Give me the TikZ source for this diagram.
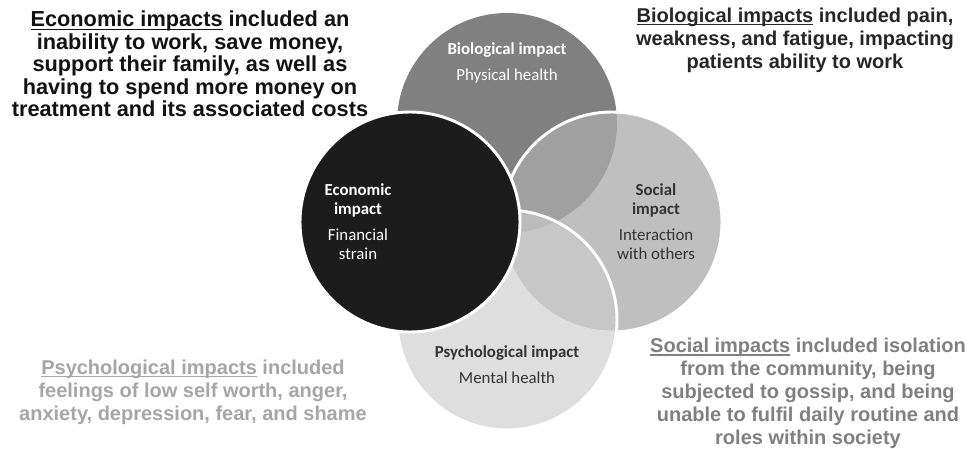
\documentclass[tikz,border=0pt]{standalone}
\usepackage{fontspec}
\setmainfont{Liberation Sans}
\newfontfamily\circfont{Carlito}
\newcommand{\undl}[1]{\setbox0\hbox{#1}\rlap{\rule[-2.4pt]{\wd0}{1pt}}\box0\relax}

\begin{document}
\begin{tikzpicture}[x=0.75pt,y=-0.75pt]
  \tikzstyle{blob}=[circle,minimum size=165pt,inner sep=0pt,draw=white,line width=2.2pt]
  \tikzstyle{inlabel}=[align=center,font=\circfont\fontsize{12.6}{14.25}\selectfont]
  \tikzstyle{note}=[align=center,font=\bfseries\fontsize{15}{17.2}\selectfont]
  \fill[white] (0,0) rectangle (972,449);
  \useasboundingbox (0,0) rectangle (972,449);
  % the four circles
  \node[blob,draw=none,fill=black!50] (C_bio) at (507,123) {};
  \node[blob,fill=black!33,fill opacity=0.76] (C_soc) at (612,222) {};
  \node[blob,fill=black!20,fill opacity=0.64] (C_psy) at (507,320) {};
  \node[blob,fill=black!89] (C_eco) at (410,222) {};
  % texts inside
  \node[inlabel,text=white] (L_bio) at (507,63) {\textbf{Biological impact}\\[5pt]Physical health};
  \node[inlabel,text=white] (L_eco) at (358,222) {\textbf{Economic}\\\textbf{impact}\\[5pt]Financial\\strain};
  \node[inlabel,text=black!80] (L_soc) at (656,222) {\textbf{Social}\\\textbf{impact}\\[5pt]Interaction\\with others};
  \node[inlabel,text=black!80] (L_psy) at (507,365) {\textbf{Psychological impact}\\[5pt]Mental health};
  % notes around
  \node[note,text=black!93,font=\bfseries\fontsize{16.3}{16.9}\selectfont] (N_eco) at (190,64) {\undl{Economic impacts} included an\\inability to work, save money,\\support their family, as well as\\having to spend more money on\\treatment and its associated costs};
  \node[note,text=black!85] (N_bio) at (795,40) {\undl{Biological impacts} included pain,\\weakness, and fatigue, impacting\\patients ability to work};
  \node[note,text=black!35] (N_psy) at (193,392) {\undl{Psychological impacts} included\\feelings of low self worth, anger,\\anxiety, depression, fear, and shame};
  \node[note,text=black!50] (N_soc) at (808,393) {\undl{Social impacts} included isolation\\from the community, being\\subjected to gossip, and being\\unable to fulfil daily routine and\\roles within society};
\end{tikzpicture}
\end{document}
